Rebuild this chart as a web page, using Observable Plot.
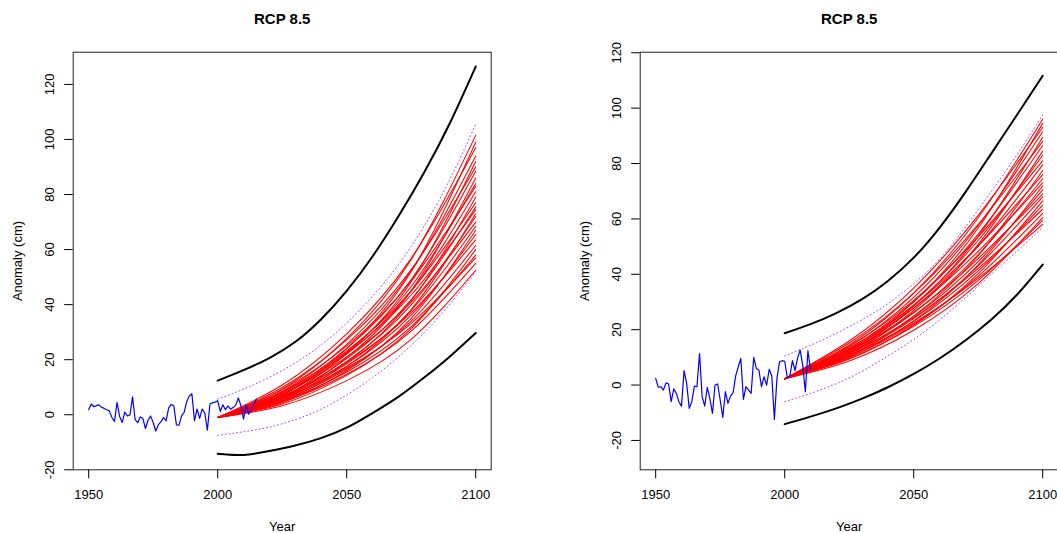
<!DOCTYPE html>
<html><head><meta charset="utf-8">
<script src="https://cdn.jsdelivr.net/npm/d3@7"></script>
<script src="https://cdn.jsdelivr.net/npm/@observablehq/plot@0.6"></script>
<style>
html,body{margin:0;padding:0;background:#fff;overflow:hidden;width:1057px;height:533px;}
#wrap{position:relative;width:1057px;height:533px;overflow:hidden;}
#wrap > div{position:absolute;top:0;width:567px;height:533px;}
#wrap svg{max-width:none !important;width:567px;height:533px;display:block;}
</style></head><body><div id="wrap"></div>
<script>
// ---------- data ----------
const panelTitle = "RCP 8.5";
const xLabel = "Year";
const yLabel = "Anomaly (cm)";
const xTicks = [1950, 2000, 2050, 2100];
const yTicks = [-20, 0, 20, 40, 60, 80, 100, 120];

// observed annual anomalies (blue)
const obsStartLeft = 1950;
const obsLeft = [1.8,3.9,2.9,3.3,3.6,2.7,2.3,1.8,1.4,-1.0,
  -2.4,4.5,-0.6,-2.8,1.0,-0.4,-0.1,6.5,-1.8,-2.9,
  -0.8,-1.3,-5.0,-2.0,-0.5,-2.8,-5.9,-3.6,-2.6,-1.0,
  -2.2,2.5,3.8,3.2,-3.7,-3.8,-0.4,0.9,4.8,6.8,
  7.6,-2.2,2.1,-1.3,2.1,0.6,-5.6,3.9,4.3,4.6,
  5.1,1.2,3.6,1.8,3.2,2.0,2.6,3.5,6.1,3.3,
  -1.6,3.5,0.2,2.0,3.9,5.7];
const obsStartRight = 1950;
const obsRight = [2.4,-0.8,-0.6,-1.8,0.8,0.4,-6.0,-1.4,-3.0,-6.0,
  -7.6,5.2,0.6,-8.4,-6.0,-0.4,-0.6,11.4,-4.2,-7.6,
  -0.8,-4.8,-10.2,0.0,0.4,-5.4,-11.7,-2.4,-6.6,-4.0,
  -2.8,3.3,6.6,9.6,-5.2,-0.6,-1.8,-3.0,10.0,6.0,
  5.4,-0.6,3.0,0.0,5.7,3.3,-12.4,2.4,8.4,8.8,
  8.6,2.8,3.2,8.8,5.2,9.8,12.6,7.0,-2.4,12.4,
  5.4];

// envelope curves (black solid, purple dotted)
const boundYears = [2000,2010,2020,2030,2040,2050,2060,2070,2080,2090,2100];
const upperLeft    = [12.4,16.2,20.6,26.4,34.6,45.0,57.5,72.0,88.0,106.0,126.5];
const lowerLeft    = [-14.2,-14.6,-13.2,-11.2,-8.5,-4.7,0.6,6.5,13.5,21.2,29.7];
const dotUpperLeft = [5.7,9.3,13.6,18.8,25.3,33.3,43.0,54.5,68.5,85.5,105.5];
const dotLowerLeft = [-7.5,-6.2,-4.5,-1.8,2.0,7.2,13.5,21.0,29.8,40.2,52.0];
const upperRight    = [18.7,22.0,26.0,31.0,37.6,46.0,56.8,69.6,83.5,97.5,111.7];
const lowerRight    = [-14.1,-11.4,-8.4,-4.9,-0.8,4.0,9.6,16.1,23.6,32.6,43.5];
const dotUpperRight = [10.5,14.4,18.7,23.6,29.4,36.6,45.4,57.0,69.8,83.2,97.5];
const dotLowerRight = [-6.0,-3.0,0.5,5.0,10.5,16.5,23.5,31.5,40.0,48.3,57.0];

// projection ensemble (red): value at 2000, then 2025, 2050, 2075, 2100
const projYears = [2000, 2025, 2050, 2075, 2100];
const projStartLeft = -1.0;
const projLeft = [
  [9.3,27.7,56.4,101.5],[7.0,24.0,52.0,99.0],[10.8,29.4,56.8,97.0],[8.5,25.6,52.2,94.0],
  [6.4,22.3,48.3,92.0],[9.9,27.2,52.7,90.0],[8.0,24.1,49.1,88.5],[6.0,20.8,45.1,86.0],
  [7.5,22.8,46.6,84.0],[9.1,25.0,48.6,83.0],[7.2,22.0,44.9,81.0],[5.4,19.0,41.4,79.0],
  [8.4,23.2,45.0,77.0],[6.7,20.4,41.8,75.5],[8.1,22.4,43.5,74.5],[4.9,17.5,38.2,73.0],
  [6.3,19.4,39.9,72.0],[7.5,21.0,40.9,70.0],[6.0,18.5,37.9,68.5],[4.4,16.0,35.0,67.0],
  [5.7,17.6,36.2,65.5],[6.7,19.0,37.1,63.5],[5.3,16.5,34.0,61.5],[3.9,14.3,31.3,60.0],
  [4.9,15.5,32.0,58.0],[6.0,17.0,33.2,57.0],[4.6,14.7,30.4,55.0],[3.3,12.4,27.4,52.5]];
const projStartRight = 2.3;
const projRight = [
  [14.5,33.2,60.4,96.0],[12.4,30.0,56.7,94.5],[15.9,35.0,61.3,93.0],[13.9,31.7,57.6,91.5],
  [11.9,28.5,53.7,89.5],[15.2,33.2,58.0,88.0],[13.2,30.1,54.5,86.5],[11.3,27.0,50.8,84.5],
  [12.8,28.9,52.3,83.0],[14.1,30.6,53.5,81.0],[12.3,27.8,50.2,79.5],[10.6,24.9,46.7,77.5],
  [13.4,28.8,50.2,76.0],[11.7,26.1,47.1,74.5],[12.9,27.8,48.3,73.0],[10.0,23.2,43.4,72.0],
  [11.2,24.8,44.6,70.5],[12.3,26.3,45.7,69.0],[10.8,24.0,43.0,68.0],[9.4,21.6,40.2,66.5],
  [10.5,23.0,41.2,65.0],[11.5,24.3,42.1,63.5],[10.1,22.0,39.3,62.0],[8.7,19.8,36.6,60.5],
  [9.7,21.2,37.8,59.5],[10.7,22.4,38.5,58.0]];

// ---------- helpers ----------
function rows(years, values, id) {
  return values.map((v, i) => ({year: years[i], value: v, id}));
}
function obsRows(start, values) {
  return values.map((v, i) => ({year: start + i, value: v}));
}
function projRows(start, curves) {
  return curves.flatMap((c, k) => rows(projYears, [start, ...c], k));
}

function panel({obsStart, obs, upper, lower, dotUpper, dotLower, projStart, proj, yDomain}) {
  const blackRows = [...rows(boundYears, upper, "u"), ...rows(boundYears, lower, "l")];
  const dotRows = [...rows(boundYears, dotUpper, "u"), ...rows(boundYears, dotLower, "l")];
  return Plot.plot({
    width: 567, height: 533,
    marginLeft: 72.7, marginRight: 76.3, marginTop: 51.7, marginBottom: 63.7,
    x: {domain: [1944, 2106]},
    y: {domain: yDomain},
    style: {fontFamily: "'Liberation Sans', Arial, Helvetica, sans-serif", background: "white", color: "black", overflow: "visible"},
    marks: [
      Plot.frame({stroke: "#222", strokeWidth: 1}),
      Plot.axisX({ticks: xTicks, tickSize: 9, tickPadding: 11.3, fontSize: 13, label: null, tickFormat: d => String(d)}),
      Plot.axisY({ticks: yTicks, tickSize: 8.5, tickPadding: 10.8, tickRotate: -90, fontSize: 13, label: null, tickFormat: d => (d < 0 ? "-" + Math.abs(d) : String(d))}),
      Plot.line(projRows(projStart, proj), {x: "year", y: "value", z: "id", stroke: "#ff0000", strokeWidth: 1.05, curve: "natural"}),
      Plot.line(blackRows, {x: "year", y: "value", z: "id", stroke: "black", strokeWidth: 2, curve: "natural"}),
      Plot.line(dotRows, {x: "year", y: "value", z: "id", stroke: "#a020f0", strokeOpacity: 0.85, strokeWidth: 1, strokeDasharray: "1,2.8", curve: "natural"}),
      Plot.line(obsRows(obsStart, obs), {x: "year", y: "value", stroke: "#0000ff", strokeWidth: 1.2}),
      Plot.text([panelTitle], {frameAnchor: "top", dy: -33, text: d => d, fontSize: 15, fontWeight: "bold", lineAnchor: "middle", textAnchor: "middle"}),
      Plot.text([xLabel], {frameAnchor: "bottom", dy: 57, text: d => d, fontSize: 13, lineAnchor: "middle", textAnchor: "middle"}),
      Plot.text([yLabel], {frameAnchor: "left", dx: -55, rotate: -90, text: d => d, fontSize: 13, lineAnchor: "middle", textAnchor: "middle"})
    ]
  });
}

const wrap = document.getElementById("wrap");
const left = document.createElement("div");
left.style.left = "0px";
left.appendChild(panel({obsStart: obsStartLeft, obs: obsLeft, upper: upperLeft, lower: lowerLeft,
  dotUpper: dotUpperLeft, dotLower: dotLowerLeft, projStart: projStartLeft, proj: projLeft, yDomain: [-20.0, 131.7]}));
const right = document.createElement("div");
right.style.left = "566.6px";
right.appendChild(panel({obsStart: obsStartRight, obs: obsRight, upper: upperRight, lower: lowerRight,
  dotUpper: dotUpperRight, dotLower: dotLowerRight, projStart: projStartRight, proj: projRight, yDomain: [-30.6, 120.2]}));
wrap.appendChild(left);
wrap.appendChild(right);
</script>
</body></html>
